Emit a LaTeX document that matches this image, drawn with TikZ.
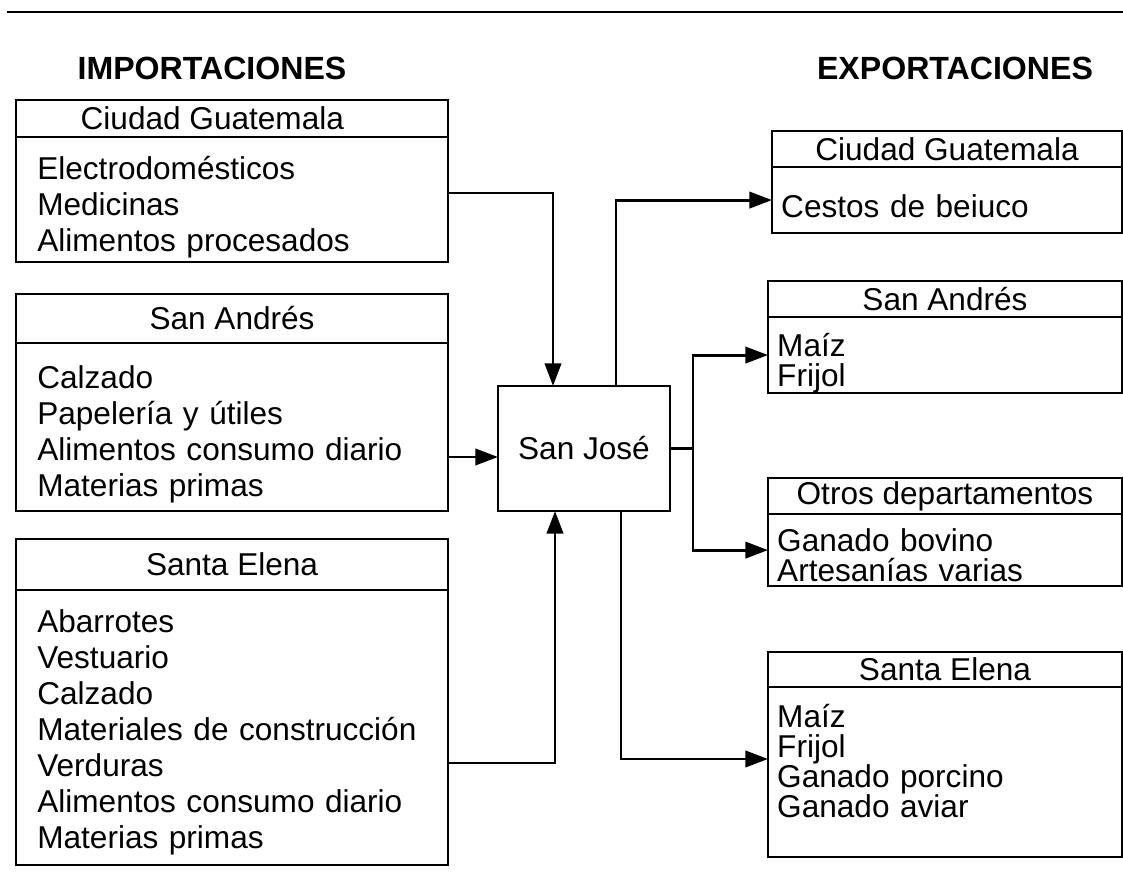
\documentclass[tikz,border=0pt]{standalone}
\usepackage{fontspec}
\setmainfont{Liberation Sans}
\usepackage{tikz}
\tikzstyle{header}=[draw, line width=0.7pt, inner sep=0pt, outer sep=0pt, anchor=north west, font=\fontsize{12pt}{14pt}\selectfont]
\tikzstyle{itemsL}=[draw, line width=0.7pt, inner xsep=8pt, inner ysep=0pt, outer sep=0pt, text width=148pt, minimum width=164.2pt, align=left, font=\fontsize{12pt}{13.7pt}\selectfont]
\tikzstyle{itemsR}=[draw, line width=0.7pt, inner xsep=3.5pt, inner ysep=0pt, outer sep=0pt, text width=127.5pt, minimum width=134.5pt, align=left, font=\fontsize{12pt}{11.4pt}\selectfont]
\tikzstyle{hub}=[draw, line width=0.7pt, outer sep=0pt, minimum width=65.4pt, minimum height=47.5pt, font=\fontsize{12pt}{14pt}\selectfont]
\tikzstyle{group}=[font=\bfseries\fontsize{12.2pt}{14pt}\selectfont]
\tikzstyle{arrow}=[line width=1.1pt,->]
% push the list text down (strut on first line) or up (depth on last line)
\tikzset{down/.style={execute at begin node={\rule{0pt}{#1}}},
         up/.style={execute at end node={\rule[-#1]{0pt}{0pt}}}}
\usetikzlibrary{arrows.meta,positioning}

\begin{document}
\begin{tikzpicture}[x=0.38pt,y=-0.38pt,>={Triangle[length=8.6pt,width=6.2pt]}]
\useasboundingbox (0,0) rectangle (1123,881);
\draw[line width=1.1pt] (7,12) -- (1123,12);
\node (imp) [group] at (212,68) {IMPORTACIONES};
\node (exp) [group] at (955,68) {EXPORTACIONES};

% importaciones
\node (impCG) [header, minimum width=164.2pt, minimum height=14.1pt] at (16,100) {Ciudad Guatemala\hspace*{15pt}};
\node (impCGb) [itemsL, minimum height=47.5pt, down=14.6pt, below=0pt of impCG] {Electrodomésticos\\Medicinas\\Alimentos procesados};
\node (impSA) [header, minimum width=164.2pt, minimum height=18.6pt] at (16,294) {San Andrés};
\node (impSAb) [itemsL, minimum height=63.8pt, down=14.6pt, below=0pt of impSA] {Calzado\\Papelería y útiles\\Alimentos consumo diario\\Materias primas};
\node (impSE) [header, minimum width=164.2pt, minimum height=19.4pt] at (16,539) {Santa Elena};
\node (impSEb) [itemsL, minimum height=104.5pt, down=12.4pt, below=0pt of impSE] {Abarrotes\\Vestuario\\Calzado\\Materiales de construcción\\Verduras\\Alimentos consumo diario\\Materias primas};

% centro
\node (sj) [hub] at (584,448.5) {San José};

% exportaciones
\node (expCG) [header, minimum width=133pt, minimum height=13.7pt] at (772,131) {Ciudad Guatemala};
\node (expCGb) [itemsR, minimum width=133pt, text width=126pt, minimum height=25.1pt, down=13pt, below=0pt of expCG] {Cestos de beiuco};
\node (expSA) [header, minimum width=134.5pt, minimum height=13.7pt] at (768,281) {San Andrés};
\node (expSAb) [itemsR, minimum height=27pt, down=15pt, below=0pt of expSA] {Maíz\\Frijol};
\node (expOt) [header, minimum width=134.5pt, minimum height=13.7pt] at (768,478) {Otros departamentos};
\node (expOtb) [itemsR, minimum height=27.4pt, down=12.6pt, below=0pt of expOt] {Ganado bovino\\Artesanías varias};
\node (expSE) [header, minimum width=134.5pt, minimum height=13.3pt] at (768,652) {Santa Elena};
\node (expSEb) [itemsR, minimum height=64.6pt, up=8.5pt, below=0pt of expSE] {Maíz\\Frijol\\Ganado porcino\\Ganado aviar};

\coordinate (split) at (693,448.5);
\draw[arrow] (impCGb.east |- 0,193) -| (sj.north -| 553,0);
\draw[arrow] (impSAb.east |- 0,457) -- (sj.west |- 0,457);
\draw[arrow] (impSEb.east |- 0,763) -| (sj.south -| 555,0);
\draw[arrow] (sj.north -| 616,0) |- (expCGb.west);
\draw[line width=1.1pt] (sj.east) -- (split);
\draw[arrow] (split) |- (expSAb.west);
\draw[arrow] (split) |- (expOtb.west);
\draw[arrow] (sj.south -| 621,0) |- (expSEb.west |- 0,759);
\end{tikzpicture}
\end{document}
